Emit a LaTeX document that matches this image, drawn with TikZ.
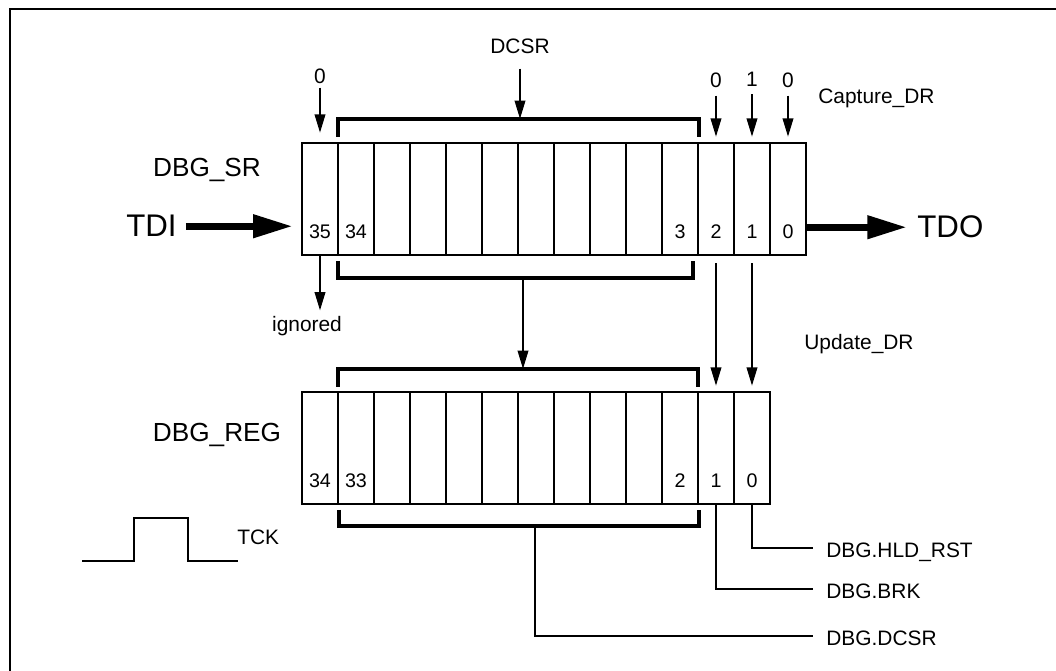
\documentclass[tikz,border=0pt]{standalone}
\usepackage{fontspec}
\setmainfont{Liberation Sans}
\usetikzlibrary{arrows.meta,calc}

\tikzset{
  cell/.style={draw, line width=1.4pt, minimum width=0.72cm, minimum height=2.24cm, inner sep=0pt},
  num/.style={anchor=base, inner sep=0pt, font=\fontsize{11.2}{13}\selectfont},
  lbl/.style={inner sep=0pt, font=\fontsize{11.9}{14}\selectfont},
  lead/.style={lbl, anchor=west, text height=11pt, text depth=0pt},
  regtitle/.style={anchor=base, inner sep=0pt, font=\fontsize{14.9}{17}\selectfont},
  pinname/.style={inner sep=0pt, font=\fontsize{17.8}{20}\selectfont},
  brack/.style={line width=2pt},
  wire/.style={line width=1.4pt},
  arr/.style={line width=1.2pt, -{Triangle[length=10.5pt,width=6pt]}},
  fat/.style={line width=4pt, -{Triangle[length=22.5pt,width=12.5pt]}}
}

\begin{document}
\begin{tikzpicture}[x=0.02cm, y=-0.02cm]
    \useasboundingbox (0,0) rectangle (1056,671);
    \draw[line width=1.5pt] (10,671) -- (10,9) -- (1056,9);

    % shift register and update register
    \foreach \k in {0,...,13}
        \node[cell] (s\k) at (320+36*\k,199) {};
    \foreach \k in {0,...,12}
        \node[cell] (r\k) at (320+36*\k,448) {};

    \foreach \k/\b in {0/35,1/34,10/3,11/2,12/1,13/0}
        \node[num] (sb\b) at ($(s\k.south)+(0,-18)$) {\b};
    \foreach \k/\b in {0/34,1/33,10/2,11/1,12/0}
        \node[num] (rb\b) at ($(r\k.south)+(0,-18)$) {\b};

    \node[regtitle] (srlabel) at (207,177) {DBG\_SR};
    \node[regtitle] (reglabel) at (217,442) {DBG\_REG};

    \draw[brack] (338,137) -- (338,119) -- (699,119) -- (699,137);
    \draw[brack] (338,261) -- (338,278) -- (693,278) -- (693,261);
    \draw[brack] (338,387) -- (338,369) -- (698,369) -- (698,387);
    \draw[brack] (339,510) -- (339,526) -- (699,526) -- (699,510);
    \coordinate (srtopmid) at (520,119);
    \coordinate (srbotmid) at (523,278);
    \coordinate (regtopmid) at (523,369);
    \coordinate (regbotmid) at (535,526);

    % capture
    \node[lbl, anchor=base] (dcsr) at (520,54) {DCSR};
    \node[lbl, anchor=base] (in35) at (320,84) {0};
    \node[lbl, anchor=base] (cap2) at (716,88) {0};
    \node[lbl, anchor=base] (cap1) at (752,87) {1};
    \node[lbl, anchor=base] (cap0) at (788,88) {0};
    \node[lbl, anchor=base west] (capdr) at (818,104) {Capture\_DR};

    \draw[arr, shorten <=0.28cm] (dcsr.south) -- (srtopmid);
    \draw[arr, shorten <=0.06cm, shorten >=0.18cm] (in35.south) -- (s0.north);
    \draw[arr, shorten <=0.14cm, shorten >=0.1cm] (cap2.south) -- (s11.north);
    \draw[arr, shorten <=0.14cm, shorten >=0.1cm] (cap1.south) -- (s12.north);
    \draw[arr, shorten <=0.14cm, shorten >=0.1cm] (cap0.south) -- (s13.north);

    % shift in / out
    \node[pinname, anchor=base east] (tdi) at (177,237) {TDI};
    \node[pinname, anchor=base west] (tdo) at (917,238) {TDO};
    \draw[fat, shorten <=0.18cm, shorten >=0.16cm] (tdi.east) -- (tdi.east -| s0.west);
    \draw[fat, shorten >=0.2cm] (s13.east |- tdo.west) -- (tdo.west);

    \node[lbl, anchor=base] (ign) at (307,332) {ignored};
    \draw[arr, shorten >=0.12cm] (s0.south) -- (s0.south |- ign.north);

    % update
    \node[lbl, anchor=base west] (upddr) at (804,350) {Update\_DR};
    \draw[arr] (srbotmid) -- (regtopmid);
    \draw[arr, shorten <=0.14cm, shorten >=0.1cm] (s11.south) -- (r11.north);
    \draw[arr, shorten <=0.14cm, shorten >=0.1cm] (s12.south) -- (r12.north);

    % register outputs
    \node[lead] (hld) at (826,548) {DBG.HLD\_RST};
    \node[lead] (brk) at (826,589) {DBG.BRK};
    \node[lead] (dcsrout) at (826,636) {DBG.DCSR};
    \draw[wire, shorten >=0.26cm] (r12.south) |- (hld.west);
    \draw[wire, shorten >=0.26cm] (r11.south) |- (brk.west);
    \draw[wire, shorten >=0.26cm] (regbotmid) |- (dcsrout.west);

    \draw[wire] (82,561) -- (134,561) -- (134,518) -- (188,518) -- (188,561) -- (238,561);
    \node[lbl, anchor=base west] (tck) at (237,545) {TCK};
\end{tikzpicture}
\end{document}
